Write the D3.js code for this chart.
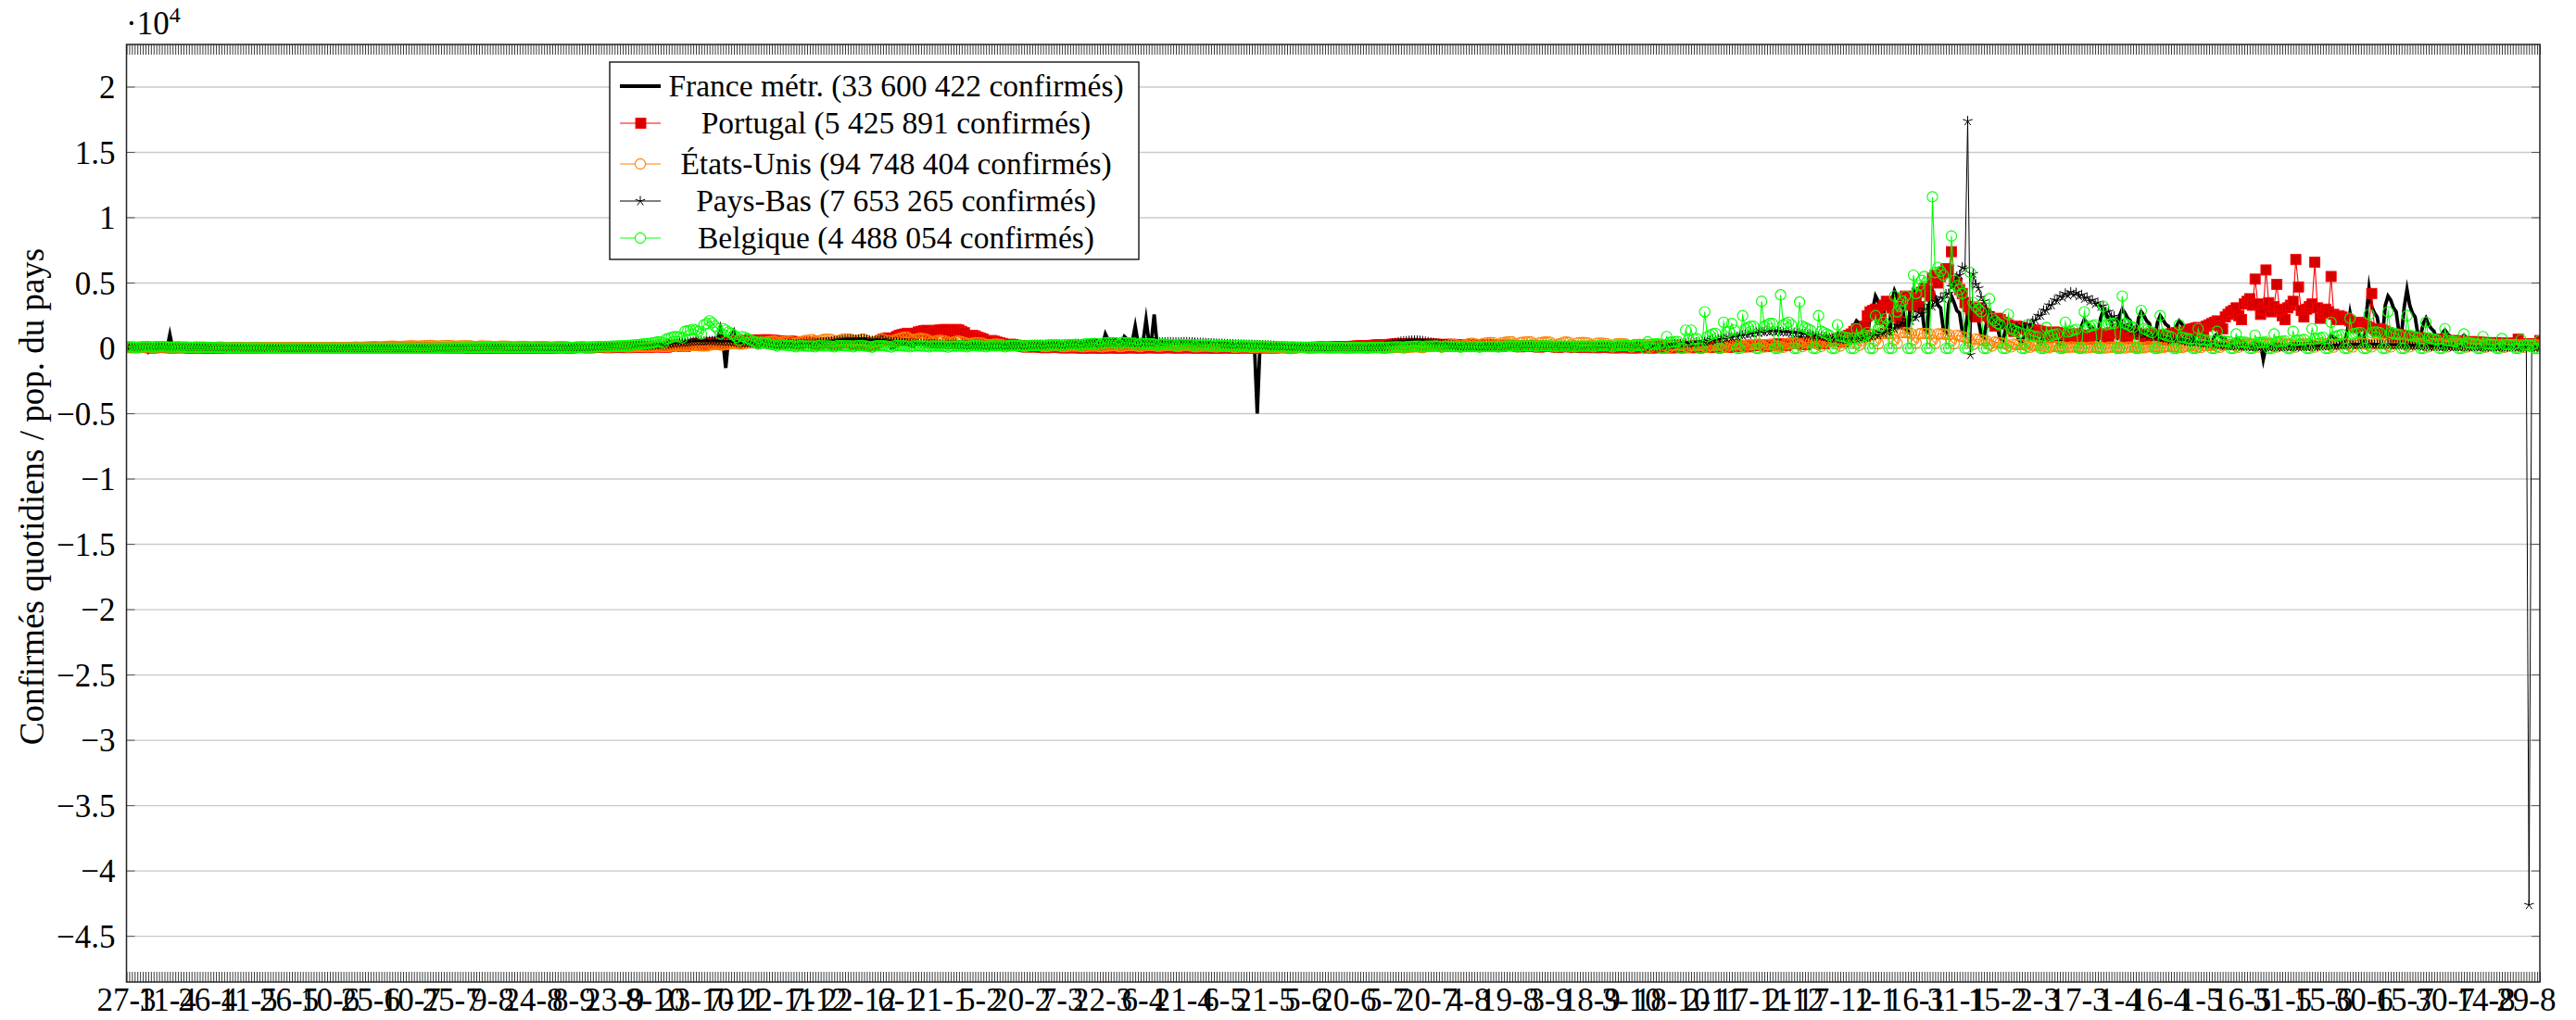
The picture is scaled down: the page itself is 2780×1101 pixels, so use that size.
<!DOCTYPE html>
<html>
<head>
<meta charset="utf-8">
<script src="https://cdn.jsdelivr.net/npm/d3@7"></script>
<style>
  body { margin: 0; background: #fff; }
  text { font-family: "Liberation Serif", "Times New Roman", serif; fill: #000; }
</style>
</head>
<body>
<div id="chart"></div>
<script>

// Daily confirmed cases per million, one row per 4 weeks (28 days), first day 27-3-2020
var franceBlocks = [
  [55,70,40,75,110,90,80, 60,-250,40,70,55,60,70, 65,40,1050,50,80,70,55, 60,45,30,40,45,40,35],
  [30,25,15,20,35,30,25, 20,15,10,15,25,20,18, 15,12,8,10,20,18,15, 12,10,6,8,15,12,10],
  [10,8,5,6,12,10,8, 8,6,0,5,10,9,8, 8,6,4,5,9,8,8, 7,6,4,5,8,7,7],
  [8,7,5,6,10,9,9, 10,8,5,6,12,11,10, 10,9,6,7,12,10,10, 11,9,6,8,13,12,12],
  [14,12,8,10,18,17,16, 18,15,10,12,22,22,22, 24,20,14,16,28,28,28, 32,28,18,22,38,38,38],
  [45,40,25,30,55,58,62, 68,60,40,45,75,80,85, 100,90,60,65,110,115,118, 125,110,70,80,130,135,140],
  [150,140,90,100,160,170,175, 180,160,110,120,190,195,190, 185,165,110,120,200,210,220, 240,220,150,160,260,280,290],
  [310,300,200,230,380,420,460, 500,480,320,350,560,620,650, 680,640,420,450,700,720,740, 760,700,1500,480,-1500,780,900],
  [1300,650,400,350,700,680,600, 560,500,300,250,500,450,400, 350,300,180,150,350,300,250, 200,180,100,90,200,180,170],
  [180,170,110,100,200,210,210, 200,190,120,110,220,230,230, 240,220,150,130,260,250,200, 120,100,60,50,180,380,350],
  [300,250,50,60,380,400,380, 320,300,200,150,340,360,360, 350,330,220,170,370,400,380, 370,340,240,180,380,400,390],
  [350,330,230,170,350,370,360, 340,320,220,160,330,340,330, 320,300,200,150,320,350,360, 380,360,250,180,420,440,450],
  [430,400,290,200,460,480,470, 450,420,300,210,480,500,500, 490,450,320,230,550,580,600, 620,560,420,300,1100,650,700],
  [700,650,500,400,900,700,650, 600,1700,450,350,650,2200,600, 580,2600,400,300,560,550,520, 480,450,300,250,480,470,450],
  [400,380,250,180,400,380,360, 340,320,200,150,330,300,280, 260,240,150,120,250,230,210, 190,170,100,80,-5000,200,180],
  [170,150,100,70,150,140,130, 120,110,70,50,110,100,90, 85,80,50,35,80,75,70, 60,55,35,25,60,55,50],
  [45,40,25,18,40,40,38, 35,32,20,15,40,45,50, 55,55,35,25,70,90,100, 110,120,80,60,150,180,200],
  [230,250,170,120,300,330,340, 350,360,250,180,380,400,390, 370,360,250,170,380,390,380, 360,340,230,160,360,350,340],
  [320,300,200,140,320,300,280, 270,250,170,120,260,240,220, 200,190,130,90,200,180,160, 150,140,90,60,150,140,130],
  [120,110,70,50,110,100,95, 90,85,55,40,90,85,80, 75,70,45,35,75,70,70, 68,65,40,30,75,75,72],
  [70,68,42,32,78,80,80, 78,76,48,36,85,90,92, 90,88,55,42,100,110,115, 120,118,75,55,140,150,155],
  [160,165,110,80,200,220,230, 240,250,160,120,300,330,340, 350,360,240,180,440,480,500, 520,530,350,260,620,680,700],
  [780,850,760,700,680,450,350, 820,900,800,760,740,480,380, 1000,1150,1050,950,900,600,480, 1700,2100,1900,1600,1500,1000,2400],
  [3000,4000,3600,3000,2900,1400,1200, 3600,4400,3900,3300,3100,1500,1300, 3700,4500,4000,3400,3200,1500,1300, 3700,4400,3900,3300,3100,1500,1250],
  [3400,4000,3500,2900,2700,1300,1050, 2700,3200,2800,2300,2100,1000,850, 2000,2400,2100,1700,1550,750,620, 1450,1750,1500,1250,1150,560,470],
  [1100,1350,1200,1000,950,460,380, 1000,1250,1100,950,900,440,360, 1150,1500,1350,1150,1100,540,450, 1700,2200,1950,1650,1550,760,640],
  [2300,2900,2600,2200,2000,980,820, 2500,3000,2700,2300,2100,1000,850, 2300,2800,2500,2100,1900,930,780, 2000,2500,2200,1850,1700,820,690],
  [1700,2100,1850,1550,1400,680,570, 1300,1600,1400,1150,1050,500,420, 900,1100,950,800,720,350,290, 600,720,630,530,480,230,200],
  [420,500,440,370,-850,170,140, 330,400,350,300,270,130,110, 300,370,330,280,260,120,100, 420,540,480,400,370,180,150],
  [700,950,850,720,660,320,270, 1300,2700,1600,1350,1250,600,500, 2500,4600,3200,2700,2400,1200,1000, 3300,4000,3700,3100,2800,1300,1100],
  [3200,4500,3300,2700,2400,1100,900, 1900,2300,1800,1500,1300,620,520, 1150,1400,1100,900,800,380,320, 800,1000,780,640,570,270,230],
  [600,750,600,500,450,210,180, 520,650,520,430,390,180,150, 460,570,460,380,350,160,140, 420,500]
];

var portugalBlocks = [
  [70,90,75,45,70,80,85, 75,60,40,35,70,110,80, 65,60,50,35,55,70,60, 50,55,40,30,50,60,45],
  [40,35,20,25,35,25,30, 50,20,15,20,25,35,30, 25,20,15,20,25,30,25, 20,25,15,20,25,30,25],
  [25,30,20,25,30,35,30, 20,30,25,20,35,40,35, 30,35,30,25,35,40,35, 30,35,25,20,30,35,30],
  [35,40,30,25,40,45,40, 35,40,30,25,35,40,35, 40,35,30,25,40,35,30, 35,40,30,25,35,40,35],
  [30,25,20,15,25,20,20, 25,20,15,12,20,25,20, 18,20,12,10,18,20,22, 20,22,15,12,22,25,22],
  [25,28,20,18,25,30,30, 30,32,22,20,35,40,40, 40,42,30,28,45,50,50, 55,60,40,35,60,65,65],
  [65,70,50,45,70,75,80, 80,85,60,55,85,90,90, 85,90,65,60,80,85,90, 90,95,70,65,100,110,115],
  [130,140,100,90,150,180,200, 210,220,160,140,220,250,280, 300,320,230,200,350,380,400, 420,430,300,280,500,520,530],
  [560,600,450,400,600,620,640, 650,640,480,420,650,660,640, 620,600,450,380,580,570,550, 540,520,380,320,500,480,470],
  [470,450,330,290,440,430,420, 410,400,300,260,420,430,440, 450,440,320,280,430,420,380, 300,200,250,300,500,600,700],
  [750,800,650,500,900,1000,1050, 1100,1150,900,800,1150,1250,1300, 1350,1380,1100,950,1300,1380,1400, 1420,1450,1150,1000,1400,1450,1400],
  [1300,1200,950,800,1000,950,850, 780,700,550,450,600,550,480, 420,380,280,220,320,280,240, 200,180,130,100,150,130,120],
  [110,100,70,50,90,85,80, 75,70,50,35,65,60,55, 50,48,35,25,45,45,42, 40,38,28,20,40,42,40],
  [45,42,30,20,45,48,50, 50,48,35,25,50,55,55, 55,52,38,28,55,58,58, 56,52,38,28,52,52,50],
  [48,45,35,25,45,45,42, 40,38,28,20,40,42,42, 42,40,30,22,42,45,45, 45,43,32,25,48,50,50],
  [55,55,40,30,55,60,60, 60,62,45,35,65,70,75, 80,82,60,45,85,90,95, 100,105,80,60,110,120,125],
  [135,140,110,90,150,170,180, 190,200,150,120,220,240,260, 270,280,220,180,300,320,340, 340,350,270,220,360,370,370],
  [350,340,260,210,320,330,320, 310,300,230,180,300,310,300, 290,280,210,170,280,290,280, 270,260,200,160,260,265,255],
  [250,240,180,140,240,240,230, 220,210,160,120,200,200,190, 180,170,130,100,170,165,160, 150,140,110,80,140,140,130],
  [125,115,85,65,110,105,100, 95,90,65,50,85,80,75, 72,68,50,40,65,65,62, 60,58,42,35,60,62,62],
  [62,60,45,35,65,70,70, 72,70,52,40,75,80,82, 85,85,65,50,90,95,100, 105,105,80,65,115,120,125],
  [130,135,105,85,150,165,175, 180,185,145,120,200,220,230, 240,245,195,160,270,290,310, 320,330,260,215,360,380,390],
  [400,410,330,280,450,480,500, 520,530,420,350,560,600,620, 640,700,600,500,850,1000,1100, 1300,1500,1300,1000,1700,2500,2800],
  [2900,3000,2600,2200,3300,3600,3400, 3100,2800,2400,2000,3800,4000,3700, 3300,3500,3900,3200,4300,4600,4400, 4000,5400,5600,5000,5500,5800,6100],
  [6000,7400,5200,5000,4500,4200,3500, 3200,3000,2600,2400,3100,2900,2700, 2500,2400,2000,1700,2300,2200,2000, 1900,1800,1500,1300,1700,1650,1600],
  [1500,1450,1200,1000,1400,1350,1300, 1250,1200,1000,850,1250,1200,1150, 1100,1050,900,750,1100,1100,1050, 1000,1000,850,700,1050,1080,1100],
  [1100,1100,900,750,1200,1250,1200, 1150,1100,900,750,1150,1200,1150, 1100,1050,850,700,1100,1100,1050, 1000,980,800,650,1050,1100,1150],
  [1200,1250,1000,850,1350,1450,1500, 1550,1600,1300,1100,1700,1800,1900, 2000,2100,1700,1500,2400,2600,2800, 2900,3100,2500,2200,3400,3600,3800],
  [3300,5300,3400,2600,3000,6000,3500, 2800,3200,4900,3000,2500,2200,3100, 3300,3600,6800,4700,2900,2400,3000, 3200,3400,6600,3100,2300,2700,3000],
  [2800,5500,2600,2200,2500,2400,2300, 2200,2100,1800,1600,1900,2000,1900, 1700,1600,4200,1500,1300,1500,1400, 1300,1200,1000,900,1100,1050,1000],
  [950,900,750,650,850,820,800, 760,720,600,520,700,680,650, 620,600,500,430,600,580,560, 540,520,430,380,520,500,480],
  [460,450,380,330,440,430,420, 410,400,330,290,400,390,380, 700,360,300,260,360,350,340, 330,600]
];

var usBlocks = [
  [55,60,65,60,75,85,90, 100,100,85,80,90,95,100, 95,90,80,75,80,90,95, 95,90,80,75,85,90,95],
  [95,90,80,70,75,85,90, 90,85,70,65,75,80,85, 80,75,65,60,65,75,75, 75,70,60,55,65,70,70],
  [70,65,55,55,55,65,65, 70,70,55,55,60,65,70, 70,65,55,55,60,70,75, 80,75,65,60,75,80,85],
  [100,105,85,90,100,110,120, 130,130,120,120,135,150,160, 170,165,140,140,150,175,185, 200,195,175,170,190,205,210],
  [215,205,185,175,190,210,215, 210,200,175,165,180,195,200, 195,180,150,140,160,180,175, 175,165,140,135,150,165,165],
  [160,150,125,120,135,145,145, 145,140,115,110,125,135,135, 135,130,105,100,110,125,125, 130,125,100,80,85,110,115],
  [125,120,100,100,110,120,125, 130,125,105,100,115,125,130, 135,130,110,105,115,125,135, 140,140,115,110,125,140,145],
  [165,160,140,135,150,175,185, 195,190,165,160,180,200,215, 230,240,200,190,210,240,270, 290,300,260,250,290,310,350],
  [380,390,330,320,400,420,460, 480,500,420,410,450,480,520, 540,550,470,450,500,540,560, 530,370,400,480,520,600,620],
  [650,660,570,560,620,680,700, 700,690,580,570,610,700,720, 720,700,600,590,620,680,700, 600,350,430,500,560,660,680],
  [500,600,550,620,700,760,820, 860,840,700,650,700,750,780, 740,700,580,500,540,600,620, 580,560,470,440,480,540,560],
  [500,460,380,360,400,440,440, 420,380,300,280,300,330,330, 300,270,210,180,190,220,230, 230,220,180,170,200,230,230],
  [220,200,150,140,160,190,200, 200,180,140,130,150,180,180, 180,170,130,120,150,170,180, 180,170,130,120,160,180,190],
  [200,190,140,130,180,200,210, 210,200,150,140,190,210,220, 230,210,160,150,190,210,220, 220,200,150,140,180,200,200],
  [190,170,120,110,150,170,170, 160,150,110,100,130,150,150, 140,130,90,80,100,120,120, 110,100,70,60,80,100,100],
  [95,85,60,50,70,80,80, 75,60,40,30,45,65,65, 60,50,35,30,40,50,50, 45,40,25,25,35,45,45],
  [45,35,20,25,35,45,45, 45,40,20,20,40,55,55, 50,20,15,30,55,70,75, 80,60,30,40,80,100,110],
  [120,80,50,110,140,170,190, 200,150,90,190,220,260,280, 290,200,120,260,300,360,380, 380,280,160,350,400,420,430],
  [440,300,180,420,460,480,490, 500,340,200,430,470,490,500, 490,330,190,420,460,480,480, 470,310,170,320,380,470,480],
  [460,300,160,420,440,450,440, 420,270,140,380,400,400,390, 370,230,120,330,340,350,340, 320,200,100,290,300,310,300],
  [290,170,90,260,270,270,260, 250,150,80,230,240,240,230, 220,130,70,210,220,230,230, 220,130,70,210,220,230,240],
  [240,140,80,240,260,270,280, 280,160,90,270,290,300,310, 320,180,100,290,310,300,180, 160,120,80,350,380,390,400],
  [420,250,130,420,450,460,470, 470,280,150,470,500,520,540, 560,330,180,560,600,650,700, 750,400,220,600,800,900,1000],
  [1050,600,350,1100,1150,1150,1150, 1150,650,380,1200,1200,1200,1200, 1150,650,400,1100,1150,1150,1150, 1100,620,380,1100,1100,1100,1080],
  [1050,580,350,1000,950,900,850, 800,450,270,720,680,640,600, 550,300,180,480,450,420,400, 370,210,120,320,300,290,280],
  [260,150,80,220,200,190,180, 170,95,50,150,140,130,125, 120,70,40,110,105,100,100, 95,55,30,90,90,90,90],
  [90,50,30,90,90,95,95, 95,55,30,95,100,100,105, 110,60,35,110,115,120,125, 130,70,40,130,140,140,150],
  [155,85,50,160,170,180,190, 190,105,60,200,210,220,230, 240,130,75,250,260,270,280, 290,160,90,300,310,320,320],
  [330,180,100,330,340,340,340, 330,180,100,330,340,330,320, 330,180,100,320,330,330,330, 320,180,100,320,330,330,330],
  [330,180,100,330,340,350,350, 350,190,110,360,370,370,360, 360,200,110,370,380,380,380, 390,210,120,390,400,400,390],
  [380,210,120,380,390,390,380, 380,200,110,370,370,370,360, 350,190,110,350,350,340,340, 330,180,100,330,330,320,320],
  [310,170,90,300,300,290,290, 280,160,85,280,280,270,270, 260,150,80,260,260,250,250, 250,140]
];

var nlBlocks = [
  [70,65,60,50,50,55,65, 60,55,50,45,45,50,60, 65,70,60,55,50,55,50, 50,45,40,40,45,50,45],
  [40,35,30,25,25,30,30, 28,25,20,15,18,22,24, 20,18,12,10,12,15,14, 12,10,8,8,10,12,12],
  [10,9,7,6,8,10,10, 9,8,6,5,7,8,8, 7,6,5,4,6,8,8, 7,6,5,4,6,7,7],
  [6,5,4,4,5,6,6, 6,5,4,4,5,6,7, 7,8,8,8,9,10,11, 12,14,14,15,16,18,18],
  [20,22,22,24,26,28,28, 30,30,28,28,30,32,34, 35,36,34,34,36,38,38, 38,36,34,34,35,36,36],
  [36,38,36,36,38,40,42, 44,46,44,44,48,52,56, 58,60,56,56,60,64,66, 68,70,66,66,72,76,80],
  [85,90,88,90,100,110,118, 120,125,115,118,130,140,150, 160,165,155,160,175,190,200, 210,215,205,210,230,250,260],
  [290,300,290,300,330,360,390, 420,440,420,430,460,500,520, 540,550,520,520,540,560,560, 550,540,510,500,520,520,510],
  [480,460,430,400,420,410,400, 380,370,350,340,350,340,330, 320,310,290,280,290,290,300, 300,300,290,280,300,320,330],
  [350,370,380,390,420,450,480, 500,520,540,560,600,640,660, 680,700,680,660,680,720,700, 660,600,580,560,600,640,620],
  [550,520,500,480,450,440,420, 400,390,380,370,360,350,340, 330,320,310,300,300,290,290, 280,280,270,270,270,260,260],
  [250,240,230,220,220,210,200, 200,195,190,185,190,200,210, 220,230,220,210,220,230,240, 250,260,250,240,250,260,270],
  [280,280,270,270,280,290,290, 290,290,280,280,290,300,310, 320,330,320,320,340,350,360, 370,380,370,370,380,390,400],
  [400,410,400,400,410,420,420, 420,420,410,410,420,430,440, 450,460,450,450,460,470,480, 480,470,460,460,470,480,480],
  [470,460,440,430,430,420,410, 400,390,380,370,360,350,340, 330,320,310,300,300,290,290, 280,280,270,260,260,250,250],
  [240,230,220,200,190,180,170, 160,150,140,130,120,110,100, 95,90,85,80,75,70,65, 60,55,50,48,46,44,42],
  [40,38,36,34,32,32,34, 36,40,45,50,60,75,90, 110,140,180,230,290,360,420, 480,520,540,560,580,600,610],
  [600,590,560,520,490,450,410, 380,350,320,290,270,250,230, 210,200,190,180,170,165,160, 155,150,145,140,140,135,135],
  [130,130,125,125,125,120,120, 120,118,118,118,118,116,116, 115,115,114,114,113,112,112, 110,108,106,104,102,100,98],
  [95,92,90,88,86,84,82, 80,80,82,84,86,88,90, 92,94,96,98,100,105,110, 115,118,120,122,125,130,135],
  [140,165,150,185,175,210,200, 230,220,260,250,300,290,340, 330,380,370,420,410,470,450, 510,500,570,560,640,620,690],
  [700,780,760,850,830,930,900, 1000,980,1080,1050,1160,1130,1220, 1190,1280,1240,1310,1270,1320,1260, 1300,1240,1270,1210,1240,1180,1200],
  [1150,1180,1100,1110,1030,1050,980, 990,920,930,860,870,800,800, 740,760,690,710,670,720,690, 740,720,790,760,850,830,920],
  [950,1060,1020,1180,1150,1350,1320, 1550,1500,1760,1700,1950,1900,2150, 2100,2420,2350,2720,2650,3020,2950, 3300,3200,3600,3500,3900,3800,4150],
  [4200,4700,4900,5500,5600,6200,6100, 17400,-500,5700,4900,4600,3900,3600, 2900,2700,2200,2200,1800,1900,1600, 1750,1550,1650,1450,1600,1450,1650],
  [1600,1800,1800,2100,2150,2500,2500, 2900,2900,3300,3300,3700,3650,4000, 3900,4200,4050,4300,4100,4250,4000, 4100,3800,3900,3600,3700,3400,3500],
  [3200,3250,2800,2800,2400,2450,2050, 2100,1750,1800,1550,1600,1350,1400, 1150,1200,1050,1100,950,1000,860, 900,790,820,720,750,650,680],
  [620,640,570,580,510,520,460, 470,410,420,360,370,320,320, 270,280,240,240,200,210,180, 180,155,160,135,140,120,125],
  [105,100,95,90,88,86,85, 85,85,86,88,90,92,95, 98,100,104,108,112,116,120, 125,130,135,140,150,160,170],
  [180,190,200,210,220,230,240, 250,260,270,275,280,285,290, 290,290,285,280,275,270,265, 260,255,250,245,240,235,230],
  [220,210,200,190,180,170,160, 150,145,140,135,130,125,120, 115,110,108,106,104,102,100, 98,96,94,92,90,88,86],
  [85,84,83,82,81,80,80, 79,78,78,77,77,76,76, 75,75,74,74,-42600,74,73, 73,72]
];

var belgiumBlocks = [
  [110,120,100,90,80,100,110, 130,140,110,100,110,130,140, 130,110,100,100,120,110,105, 100,90,80,85,90,95,85],
  [80,70,60,55,60,55,50, 45,40,35,32,35,34,32, 30,28,25,22,25,24,22, 20,18,16,15,16,17,16],
  [15,14,12,10,11,12,11, 10,9,8,8,9,9,8, 8,7,7,7,8,8,8, 7,7,6,6,7,8,8],
  [8,8,7,7,8,9,9, 9,9,8,8,9,10,10, 10,10,9,9,10,11,12, 12,12,11,11,12,13,14],
  [15,16,16,17,19,21,23, 25,27,28,30,33,36,39, 42,45,46,47,50,52,54, 55,55,54,52,52,51,50],
  [48,46,44,42,42,42,42, 42,42,42,44,45,46,46, 46,46,45,45,46,48,50, 52,55,57,60,63,66,70],
  [75,80,85,90,95,100,110, 120,130,140,150,160,170,180, 190,200,210,220,240,260,280, 300,320,340,360,380,420,460],
  [500,480,420,700,760,840,900, 900,880,800,1300,1350,1400,1450, 1400,1300,1100,1800,1900,2100,1950, 1700,1500,1100,1500,1400,1250,1150],
  [1000,850,600,900,850,750,650, 560,480,320,480,420,380,340, 300,260,180,280,260,240,220, 200,180,120,200,190,180,170],
  [170,160,110,200,190,190,190, 185,175,120,210,200,200,195, 190,180,120,210,210,200,190, 170,140,90,180,200,210,200],
  [180,150,100,190,200,200,190, 180,170,110,190,190,185,180, 175,165,110,180,180,175,170, 165,160,100,170,175,175,180],
  [180,170,110,190,200,200,190, 180,170,110,180,190,190,190, 190,180,120,200,210,210,210, 210,200,130,210,220,220,230],
  [230,220,150,240,250,260,260, 260,250,170,270,280,290,300, 310,300,210,320,340,350,370, 380,370,260,400,420,430,440],
  [440,420,290,450,440,430,420, 400,380,260,380,370,360,350, 340,320,220,330,320,310,300, 290,280,190,290,290,280,280],
  [280,270,180,280,270,260,260, 250,240,160,250,240,230,220, 220,210,140,220,210,200,200, 190,180,120,190,180,170,170],
  [160,150,100,150,140,130,120, 115,110,70,110,100,95,90, 85,80,50,80,75,70,65, 60,58,40,60,58,55,55],
  [55,52,35,55,55,55,55, 55,52,35,55,60,65,70, 75,75,50,80,90,100,110, 120,120,80,130,140,150,160],
  [170,170,110,170,165,160,160, 160,155,100,150,150,145,145, 145,140,90,140,140,140,140, 140,135,90,135,135,135,135],
  [140,140,95,150,160,170,180, 180,180,120,180,190,190,190, 190,190,125,190,190,190,180, 180,175,115,175,170,170,165],
  [165,160,105,165,170,170,175, 175,170,110,180,185,185,185, 185,180,120,190,195,195,200, 200,200,130,210,215,220,225],
  [0,500,300,320,340,350,0, 0,900,450,480,500,520,0, 0,1400,650,1400,700,750,0, 0,2800,900,1000,1100,1150,0],
  [0,2000,1200,1300,1900,1400,0, 0,2500,1500,1600,1700,1700,0, 0,3600,1700,1800,1900,1900,0, 0,4100,1800,1900,2000,1800,0],
  [0,3550,1700,1600,1500,1400,0, 0,2500,1300,1200,1100,1000,0, 0,1800,950,900,850,800,0, 0,1500,800,900,1000,1200,0],
  [0,2500,1500,1700,2000,2300,0, 0,4000,2800,3200,3600,4000,0, 0,5600,4200,4800,5200,5500,0, 0,11600,5800,6200,5900,5600,0],
  [0,8600,5200,4800,4500,4200,0, 0,5800,3500,3200,3000,2800,0, 0,3800,2300,2100,1900,1800,0, 0,2600,1500,1400,1300,1200,0],
  [0,1800,1000,950,900,900,0, 0,1600,950,1000,1050,1100,0, 0,2000,1250,1300,1400,1450,0, 0,2800,1600,1700,1750,1800,0],
  [0,3200,1800,1850,1900,1900,0, 0,4000,1900,1800,1700,1600,0, 0,2900,1500,1400,1300,1200,0, 0,2500,1100,1000,950,900,0],
  [0,1800,850,800,750,720,0, 0,1500,700,650,620,600,0, 0,1300,580,560,540,520,0, 0,1100,500,480,470,460,0],
  [0,1000,450,460,470,480,0, 0,1100,500,520,540,560,0, 0,1300,600,620,650,680,0, 0,1500,720,760,800,850,0],
  [0,2000,900,950,1000,1050,0, 0,2300,1100,1150,1200,1200,0, 0,2600,1200,1250,1250,1200,0, 0,2800,1200,1150,1100,1050,0],
  [0,2500,1000,950,900,850,0, 0,2000,800,750,700,650,0, 0,1500,600,560,520,500,0, 0,1100,450,420,400,380,0],
  [0,900,350,330,320,300,0, 0,750,300,290,280,270,0, 0,650,260,250,240,240,0, 0,600]
];

// x tick labels, one every 15 days from 27-3-2020
var xTickLabels = ["27-3","11-4","26-4","11-5","26-5","10-6","25-6","10-7","25-7","9-8",
  "24-8","8-9","23-9","8-10","23-10","7-11","22-11","7-12","22-12","6-1",
  "21-1","5-2","20-2","7-3","22-3","6-4","21-4","6-5","21-5","5-6",
  "20-6","5-7","20-7","4-8","19-8","3-9","18-9","3-10","18-10","2-11",
  "17-11","2-12","17-12","1-1","16-1","31-1","15-2","2-3","17-3","1-4",
  "16-4","1-5","16-5","31-5","15-6","30-6","15-7","30-7","14-8","29-8"];

var yTickValues = [-4.5,-4,-3.5,-3,-2.5,-2,-1.5,-1,-0.5,0,0.5,1,1.5,2];

var legendLabels = ["France métr. (33 600 422 confirmés)", "Portugal (5 425 891 confirmés)",
  "États-Unis (94 748 404 confirmés)", "Pays-Bas (7 653 265 confirmés)", "Belgique (4 488 054 confirmés)"];

var svgWidth = 2780;
var svgHeight = 1101;

var margin = {
  top: 48,
  right: 39,
  bottom: 41,
  left: 136.5
};

var width = svgWidth - margin.left - margin.right;
var height = svgHeight - margin.top - margin.bottom;

var svg = d3.select("#chart")
  .append("svg")
  .attr("width", svgWidth)
  .attr("height", svgHeight);

svg.append("rect").attr("width", svgWidth).attr("height", svgHeight).attr("fill", "#fff");

var chartGroup = svg.append("g")
  .attr("transform", `translate(${margin.left}, ${margin.top})`);

var lastDay = 890;
var xScale = d3.scaleLinear().domain([0, lastDay]).range([0, width]);
var yScale = d3.scaleLinear().domain([-48500, 23260]).range([height, 0]);

// flatten 4-week rows into daily points
function toPoints(blocks) {
  var pts = [];
  blocks.forEach(function(row, b) {
    row.forEach(function(v, i) {
      pts.push({ day: 28 * b + i, v: v });
    });
  });
  return pts;
}

// horizontal grid
chartGroup.append("g")
  .selectAll("line")
  .data(yTickValues)
  .enter()
  .append("line")
  .attr("x1", 0)
  .attr("x2", width)
  .attr("y1", d => yScale(d * 1e4))
  .attr("y2", d => yScale(d * 1e4))
  .attr("stroke", "#c9c9c9")
  .attr("stroke-width", 1.4);

// daily ticks, top and bottom
var allDays = d3.range(0, lastDay + 1);
var bottomAxis = d3.axisBottom(xScale).tickValues(allDays).tickSize(-11).tickFormat("");
var topAxis = d3.axisTop(xScale).tickValues(allDays).tickSize(-11).tickFormat("");

var xAxisBottom = chartGroup.append("g")
  .attr("transform", `translate(0, ${height})`)
  .call(bottomAxis);
var xAxisTop = chartGroup.append("g").call(topAxis);
[xAxisBottom, xAxisTop].forEach(function(g) {
  g.select(".domain").remove();
  g.selectAll("line").attr("stroke", "#222").attr("stroke-width", 0.9);
});

// x tick labels every 15 days
chartGroup.append("g")
  .selectAll("text")
  .data(xTickLabels)
  .enter()
  .append("text")
  .attr("x", (d, i) => xScale(15 * i))
  .attr("y", height + 31)
  .attr("text-anchor", "middle")
  .attr("font-size", "35px")
  .text(d => d);

// y axis
var leftAxis = d3.axisLeft(yScale)
  .tickValues(yTickValues.map(d => d * 1e4))
  .tickSize(0)
  .tickPadding(12)
  .tickFormat(d => d3.format("")(d / 1e4));

var yAxis = chartGroup.append("g").call(leftAxis);
yAxis.select(".domain").remove();
yAxis.selectAll("text")
  .attr("font-size", "35px")
  .attr("font-family", "Liberation Serif, serif")
  .attr("dy", "0.33em");

// small y tick marks on both sides
var yTickMarks = chartGroup.append("g");
yTickValues.forEach(function(t) {
  var yy = yScale(t * 1e4);
  yTickMarks.append("line").attr("x1", 0).attr("x2", 9).attr("y1", yy).attr("y2", yy)
    .attr("stroke", "#555").attr("stroke-width", 1);
  yTickMarks.append("line").attr("x1", width - 9).attr("x2", width).attr("y1", yy).attr("y2", yy)
    .attr("stroke", "#555").attr("stroke-width", 1);
});

// plot area clip
svg.append("defs").append("clipPath").attr("id", "plotClip")
  .append("rect").attr("x", 0).attr("y", 0).attr("width", width).attr("height", height);

var plotArea = chartGroup.append("g").attr("clip-path", "url(#plotClip)");

var lineGen = d3.line()
  .x(d => xScale(d.day))
  .y(d => yScale(d.v));

var starPath = (function() {
  var r = 5.5, p = "";
  for (var k = 0; k < 5; k++) {
    var a = (90 + 72 * k) * Math.PI / 180;
    p += "M0,0L" + (r * Math.cos(a)).toFixed(2) + "," + (-r * Math.sin(a)).toFixed(2);
  }
  return p;
})();

function drawMarks(g, pts, kind, color) {
  var sel = g.selectAll(null).data(pts).enter();
  if (kind === "square") {
    sel.append("rect")
      .attr("x", d => xScale(d.day) - 5.5)
      .attr("y", d => yScale(d.v) - 5.5)
      .attr("width", 11)
      .attr("height", 11)
      .attr("fill", "#d40000")
      .attr("stroke", color)
      .attr("stroke-width", 0.9);
  } else if (kind === "circle") {
    sel.append("circle")
      .attr("cx", d => xScale(d.day))
      .attr("cy", d => yScale(d.v))
      .attr("r", 5.6)
      .attr("fill", "none")
      .attr("stroke", color)
      .attr("stroke-width", 1.1);
  } else if (kind === "star") {
    sel.append("path")
      .attr("d", starPath)
      .attr("transform", d => `translate(${xScale(d.day)}, ${yScale(d.v)})`)
      .attr("fill", "none")
      .attr("stroke", color)
      .attr("stroke-width", 1);
  }
}

var seriesList = [
  { pts: toPoints(franceBlocks), color: "#000", width: 3.8, mark: null },
  { pts: toPoints(portugalBlocks), color: "#ff0000", width: 1.1, mark: "square" },
  { pts: toPoints(usBlocks), color: "#ff8000", width: 1.1, mark: "circle" },
  { pts: toPoints(nlBlocks), color: "#000", width: 1, mark: "star" },
  { pts: toPoints(belgiumBlocks), color: "#00ff00", width: 1.1, mark: "circle" }
];

seriesList.forEach(function(s) {
  var g = plotArea.append("g");
  g.append("path")
    .datum(s.pts)
    .attr("d", lineGen)
    .attr("fill", "none")
    .attr("stroke", s.color)
    .attr("stroke-width", s.width)
    .attr("stroke-miterlimit", 10);
  if (s.mark) drawMarks(g, s.pts, s.mark, s.color);
});

// frame
chartGroup.append("rect")
  .attr("x", 0).attr("y", 0)
  .attr("width", width).attr("height", height)
  .attr("fill", "none")
  .attr("stroke", "#222")
  .attr("stroke-width", 1.5);

// scale label
var scaleLabel = svg.append("text").attr("x", 136).attr("y", 37).attr("font-size", "35px");
scaleLabel.append("tspan").text("\u00b710");
scaleLabel.append("tspan").attr("font-size", "24px").attr("dy", "-13").text("4");

// y axis title
svg.append("text")
  .attr("transform", "translate(47, 536) rotate(-90)")
  .attr("text-anchor", "middle")
  .attr("font-size", "37px")
  .text("Confirmés quotidiens / pop. du pays");

// legend
var legend = svg.append("g");
legend.append("rect")
  .attr("x", 658).attr("y", 67)
  .attr("width", 571).attr("height", 213)
  .attr("fill", "#fff")
  .attr("stroke", "#000")
  .attr("stroke-width", 1.3);

var legendRows = [93, 133, 177, 217, 257];
seriesList.forEach(function(s, i) {
  var yy = legendRows[i];
  legend.append("line")
    .attr("x1", 669).attr("x2", 713).attr("y1", yy).attr("y2", yy)
    .attr("stroke", s.color).attr("stroke-width", i === 0 ? 4 : 1.1);
  if (s.mark === "square") {
    legend.append("rect").attr("x", 686).attr("y", yy - 5.5).attr("width", 11).attr("height", 11)
      .attr("fill", "#d40000").attr("stroke", s.color).attr("stroke-width", 0.9);
  } else if (s.mark === "circle") {
    legend.append("circle").attr("cx", 691).attr("cy", yy).attr("r", 5.6)
      .attr("fill", "#fff").attr("stroke", s.color).attr("stroke-width", 1.1);
  } else if (s.mark === "star") {
    legend.append("path").attr("d", starPath).attr("transform", `translate(691, ${yy})`)
      .attr("fill", "none").attr("stroke", s.color).attr("stroke-width", 1);
  }
  legend.append("text")
    .attr("x", 967).attr("y", yy + 11)
    .attr("text-anchor", "middle")
    .attr("font-size", "33.5px")
    .text(legendLabels[i]);
});

</script>
</body>
</html>
